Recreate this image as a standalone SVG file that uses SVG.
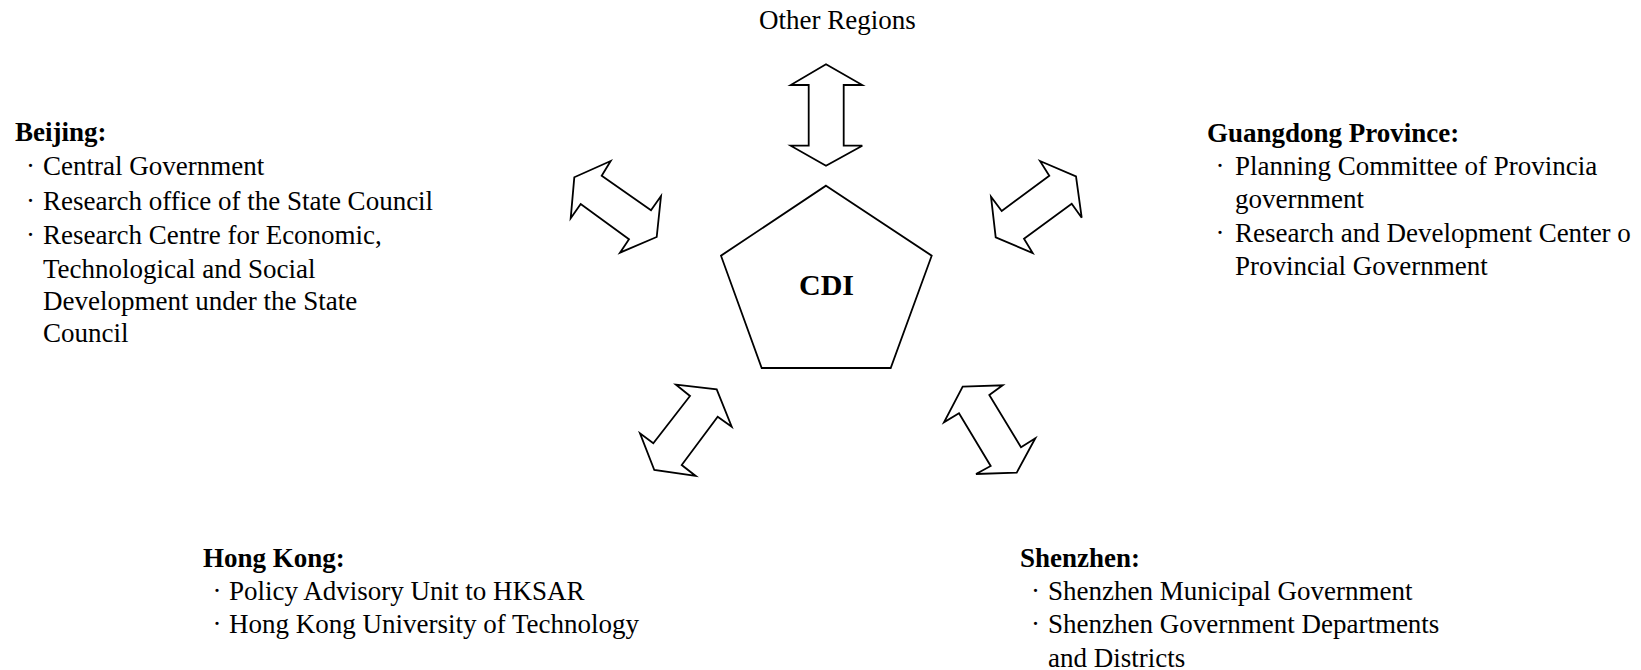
<svg xmlns="http://www.w3.org/2000/svg" width="1641" height="670" viewBox="0 0 1641 670">
<style>
.t{font-family:"Liberation Serif","Times New Roman",serif;font-size:27px;fill:#000}
.b{font-weight:bold}
.shape{fill:#fff;stroke:#000;stroke-width:1.8;stroke-linejoin:miter}
</style>
<rect width="1641" height="670" fill="#fff"/>
<g id="cdi">
<polygon class="shape" points="826,185.7 931.7,255.7 890.7,368 761.7,368 721,255.7"/>
<text class="t b" x="826.5" y="295" style="font-size:30px" text-anchor="middle">CDI</text>
</g>
<g id="connectors">
<polygon class="shape" points="826,64.3 862.3,85 843.7,85 843.7,145.7 862.3,145.7 826,165.7 790.7,145.7 808.7,145.7 808.7,85 790.7,85"/>
<polygon class="shape" points="610.7,161 574.3,177.3 570.7,218.3 580.7,204 629,239.3 620,252.7 656.7,237 661,196 651,210.3 601.7,175.7"/>
<polygon class="shape" points="1040,161 1076,176.3 1081.7,217.7 1071.7,203.7 1024,238.7 1032.7,253 995.7,237.3 991,196.7 1001.7,211 1049.3,175.7"/>
<polygon class="shape" points="676,384.7 716.7,389.3 731.7,426.7 717.7,416.7 681.7,465 695.7,476 654.3,470 640,433.3 653.3,443.3 690,396"/>
<polygon class="shape" points="962.7,386.7 1002.7,385.3 989.3,395 1021,447.3 1035.3,438.3 1016.7,472.7 976,474 990.7,466 959,413.3 944,422.3"/>
</g>
<g id="other-regions">
<text class="t" x="759" y="29">Other Regions</text>
</g>
<g id="beijing">
<text class="t b" x="15" y="141">Beijing:</text>
<text class="t" x="26" y="175">·</text>
<text class="t" x="26" y="210">·</text>
<text class="t" x="26" y="244">·</text>
<text class="t" x="43" y="175">Central Government</text>
<text class="t" x="43" y="210">Research office of the State Council</text>
<text class="t" x="43" y="244">Research Centre for Economic,</text>
<text class="t" x="43" y="278">Technological and Social</text>
<text class="t" x="43" y="310">Development under the State</text>
<text class="t" x="43" y="342">Council</text>
</g>
<g id="guangdong">
<text class="t b" x="1207" y="142">Guangdong Province:</text>
<text class="t" x="1215.5" y="175">·</text>
<text class="t" x="1215.5" y="242">·</text>
<text class="t" x="1235" y="175">Planning Committee of Provincia</text>
<text class="t" x="1235" y="208">government</text>
<text class="t" x="1235" y="242">Research and Development Center o</text>
<text class="t" x="1235" y="275">Provincial Government</text>
</g>
<g id="hongkong">
<text class="t b" x="203" y="567">Hong Kong:</text>
<text class="t" x="212.5" y="600">·</text>
<text class="t" x="212.5" y="633">·</text>
<text class="t" x="229" y="600">Policy Advisory Unit to HKSAR</text>
<text class="t" x="229" y="633">Hong Kong University of Technology</text>
</g>
<g id="shenzhen">
<text class="t b" x="1020" y="567">Shenzhen:</text>
<text class="t" x="1031" y="600">·</text>
<text class="t" x="1031" y="633">·</text>
<text class="t" x="1048" y="600">Shenzhen Municipal Government</text>
<text class="t" x="1048" y="633">Shenzhen Government Departments</text>
<text class="t" x="1048" y="667">and Districts</text>
</g>
</svg>
